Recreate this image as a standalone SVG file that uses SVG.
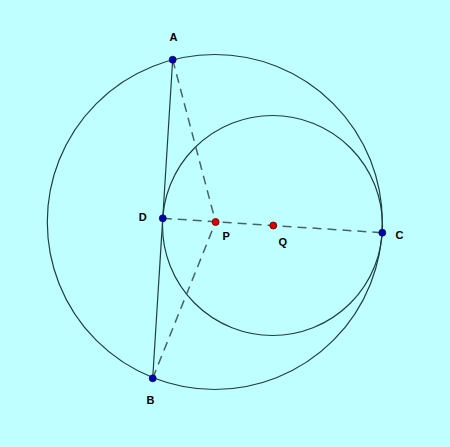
<svg xmlns="http://www.w3.org/2000/svg" width="450" height="447" viewBox="0 0 450 447">
<style>
.circ{fill:none;stroke:#1f3f3f;stroke-width:1.2}
.solid{stroke:#1f3f3f;stroke-width:1.2;fill:none}
.dash{stroke:#456565;stroke-width:1.5;stroke-dasharray:9 6;fill:none}
.bpt{fill:#0000b0;stroke:#101050;stroke-width:0.8}
.rpt{fill:#e00000;stroke:#600000;stroke-width:0.8}
.lbl{font-family:"Liberation Sans",Arial,sans-serif;font-weight:bold;font-size:11px;fill:#000}
</style>
<rect x="0" y="0" width="450" height="447" fill="#c0ffff"/>
<g id="circles">
<circle id="bigCircle" class="circ" cx="214.8" cy="222" r="167.5"/>
<circle id="smallCircle" class="circ" cx="272.5" cy="225.5" r="110"/>
</g>
<g id="connectors">
<line class="solid" x1="172.7" y1="59.7" x2="152.7" y2="378.3"/>
<line class="dash" x1="172.7" y1="59.7" x2="215.6" y2="222"/>
<line class="dash" x1="152.7" y1="378.3" x2="215.6" y2="222"/>
<line class="dash" x1="162.8" y1="218.3" x2="382.3" y2="232.7"/>
</g>
<g id="A"><circle class="bpt" cx="172.7" cy="59.7" r="3.5"/><text class="lbl" x="169.6" y="40.8">A</text></g>
<g id="B"><circle class="bpt" cx="152.7" cy="378.3" r="3.5"/><text class="lbl" x="146.4" y="404.4">B</text></g>
<g id="C"><circle class="bpt" cx="382.3" cy="232.7" r="3.5"/><text class="lbl" x="395.6" y="239.4">C</text></g>
<g id="D"><circle class="bpt" cx="162.8" cy="218.3" r="3.5"/><text class="lbl" x="138.8" y="221">D</text></g>
<g id="P"><circle class="rpt" cx="215.6" cy="222" r="3.5"/><text class="lbl" x="222.4" y="239.6">P</text></g>
<g id="Q"><circle class="rpt" cx="273.3" cy="225.5" r="3.5"/><text class="lbl" x="278.6" y="246.3">Q</text></g>
</svg>
